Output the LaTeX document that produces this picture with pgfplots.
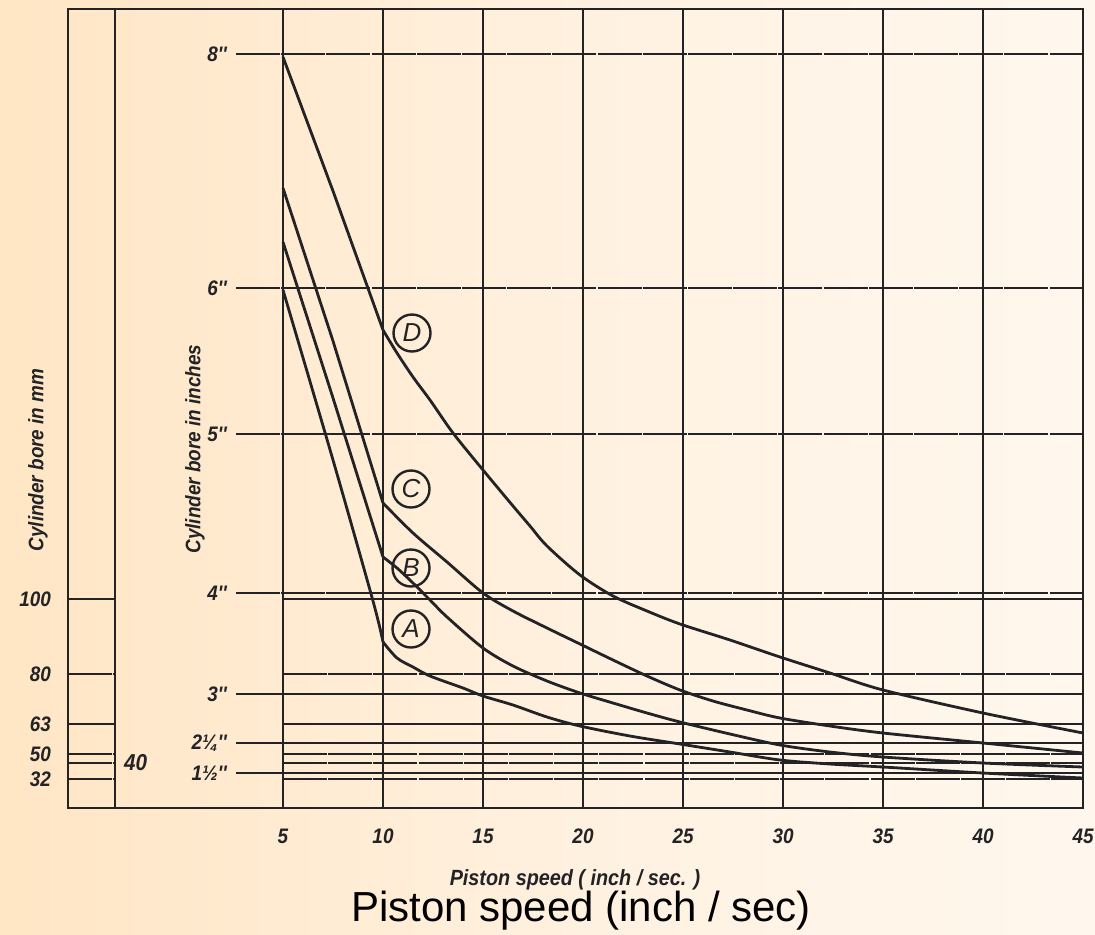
\documentclass[border=0pt]{standalone}
\usepackage{pgfplots}
\pgfplotsset{compat=1.18}
\usepackage{fontspec}
\setmainfont{Liberation Sans}
\newfontfamily\lab[FakeStretch=0.9]{Liberation Sans}

\definecolor{ink}{HTML}{232326}
\pgfdeclarehorizontalshading{bgshade}{100bp}{rgb(0bp)=(0.99,0.86,0.63); rgb(25bp)=(1,0.90,0.77); rgb(55bp)=(1,0.95,0.89); rgb(100bp)=(1,0.995,0.985)}

\tikzset{
  curve/.style={ink, line width=1.4pt},
  thickrule/.style={ink, line width=1pt, dash pattern=on 22pt off 0.6pt},
  thinrule/.style={ink, line width=0.65pt},
  lbl/.style={font=\lab\bfseries\itshape\fontsize{10.5}{12}\selectfont, text=ink},
  ring/.style={circle, draw=ink, line width=1.2pt, minimum size=18.5pt, inner sep=0pt,
    font=\fontsize{13}{13}\selectfont\itshape, text=ink},
}

\begin{document}
\begin{tikzpicture}[x=1pt,y=1pt]
  \shade[shading=bgshade] (-34,-63) rectangle (513.5,404);
  \begin{axis}[
    scale only axis,
    width=507.5pt, height=399.5pt,
    at={(0,0)}, anchor=south west,
    xmin=-5.75, xmax=45, ymin=0, ymax=799,
    clip=false,
    axis line style={ink, line width=1pt},
    xtick={5,10,...,45},
    xticklabels={5,10,15,20,25,30,35,40,45},
    ytick={29,54,84,134,209},
    yticklabels={32,50,63,80,100},
    major tick length=0pt,
    tick style={draw=none},
    tick label style={font=\lab\bfseries\itshape\fontsize{10.5}{12}\selectfont, text=ink},
    xticklabel style={yshift=-7pt},
    yticklabel style={xshift=-5pt},
    xmajorgrids,
    grid style={ink, line width=0.9pt},
  ]
    % left mm box
    \draw[ink, line width=0.9pt] (axis cs:-3.4,0) -- (axis cs:-3.4,799);
    \pgfplotsinvokeforeach{134,54,45,29}{
      \draw[thickrule] (axis cs:-5.75,#1) -- (axis cs:-3.4,#1);
      \draw[thickrule] (axis cs:5,#1) -- (axis cs:45,#1);
    }
    \pgfplotsinvokeforeach{209,84}{
      \draw[thinrule] (axis cs:-5.75,#1) -- (axis cs:-3.4,#1);
      \draw[thinrule] (axis cs:5,#1) -- (axis cs:45,#1);
    }
    % inch rules
    \pgfplotsinvokeforeach{754,520,374,215}{
      \draw[thickrule] (axis cs:2.65,#1) -- (axis cs:45,#1);
    }
    \pgfplotsinvokeforeach{114,65,35}{
      \draw[thinrule] (axis cs:2.65,#1) -- (axis cs:45,#1);
    }
    \node[lbl, anchor=east] at (axis cs:2.55,754) {8''};
    \node[lbl, anchor=east] at (axis cs:2.55,520) {6''};
    \node[lbl, anchor=east] at (axis cs:2.55,374) {5''};
    \node[lbl, anchor=east] at (axis cs:2.55,215) {4''};
    \node[lbl, anchor=east] at (axis cs:2.55,114) {3''};
    \node[lbl, anchor=east] at (axis cs:2.55,65) {2¼''};
    \node[lbl, anchor=east] at (axis cs:2.55,35) {1½''};
    \node[lbl, font=\lab\bfseries\itshape\fontsize{11.5}{12}\selectfont, anchor=west] at (axis cs:-3.3,45) {40};

    % curve D
    \addplot[curve, no marks] coordinates {(5,751) (7.5,617) (10,478)};
    \addplot[curve, no marks, smooth] coordinates {(10,478) (10.7,455) (11.5,431) (12.35,408)
      (13.5,375) (15,338) (16.5,302) (17.35,282) (18.2,262) (19.85,233) (21.5,212)
      (23.2,197) (24.85,184) (27.35,168) (29.85,151) (32.35,135) (35,118) (40,95) (45,75)};
    % curve C
    \addplot[curve, no marks] coordinates {(5,620) (7.5,467) (10,305)};
    \addplot[curve, no marks, smooth] coordinates {(10,305) (11.5,275) (13.2,246) (15,215)
      (16.5,197) (18.2,180) (19.85,164) (21.5,148) (23.2,132) (24.85,118) (26.5,107)
      (28.2,98) (29.85,90) (32.35,82) (35,75) (40,65) (45,55)};
    % curve B
    \addplot[curve, no marks] coordinates {(5,566) (7.5,410) (10,251)};
    \addplot[curve, no marks, smooth] coordinates {(10,251) (10.7,240) (11.5,225) (12.35,208)
      (13.2,191) (15,160) (16.5,142) (18.2,127) (19.85,115) (21.5,105) (23.2,95)
      (24.85,86) (27.35,74) (29.85,63) (32.35,56) (35,51) (40,45) (45,41)};
    % curve A
    \addplot[curve, no marks, smooth] coordinates {(5,518) (7.5,348) (9.5,207) (10,166)};
    \addplot[curve, no marks, smooth] coordinates {(10,166) (10.7,150) (11.5,141) (12.35,132)
      (14,120) (15,112) (16.5,103) (18.2,91) (19.85,82) (22.35,72) (24.85,64)
      (27.35,56) (29.85,48) (32.35,44) (35,41) (40,35) (45,30)};

    \node[ring] at (axis cs:11.45,475) {D};
    \node[ring] at (axis cs:11.4,319) {C};
    \node[ring] at (axis cs:11.4,240) {B};
    \node[ring] at (axis cs:11.4,179) {A};

    \node[lbl, rotate=90] at (axis cs:-7.25,348) {Cylinder bore in mm};
    \node[lbl, rotate=90] at (axis cs:0.6,359) {Cylinder bore in inches};
    \node[lbl, font=\lab\bfseries\itshape\fontsize{11}{12}\selectfont, anchor=base] at (axis cs:19.6,-77) {Piston speed ( inch / sec. )};
    \node[font=\fontsize{21}{22}\selectfont, text=black, anchor=base] at (axis cs:19.9,-113) {Piston speed (inch / sec)};
  \end{axis}
  \pgfresetboundingbox
  \useasboundingbox (-34,-63) rectangle (513.5,404);
\end{tikzpicture}
\end{document}
